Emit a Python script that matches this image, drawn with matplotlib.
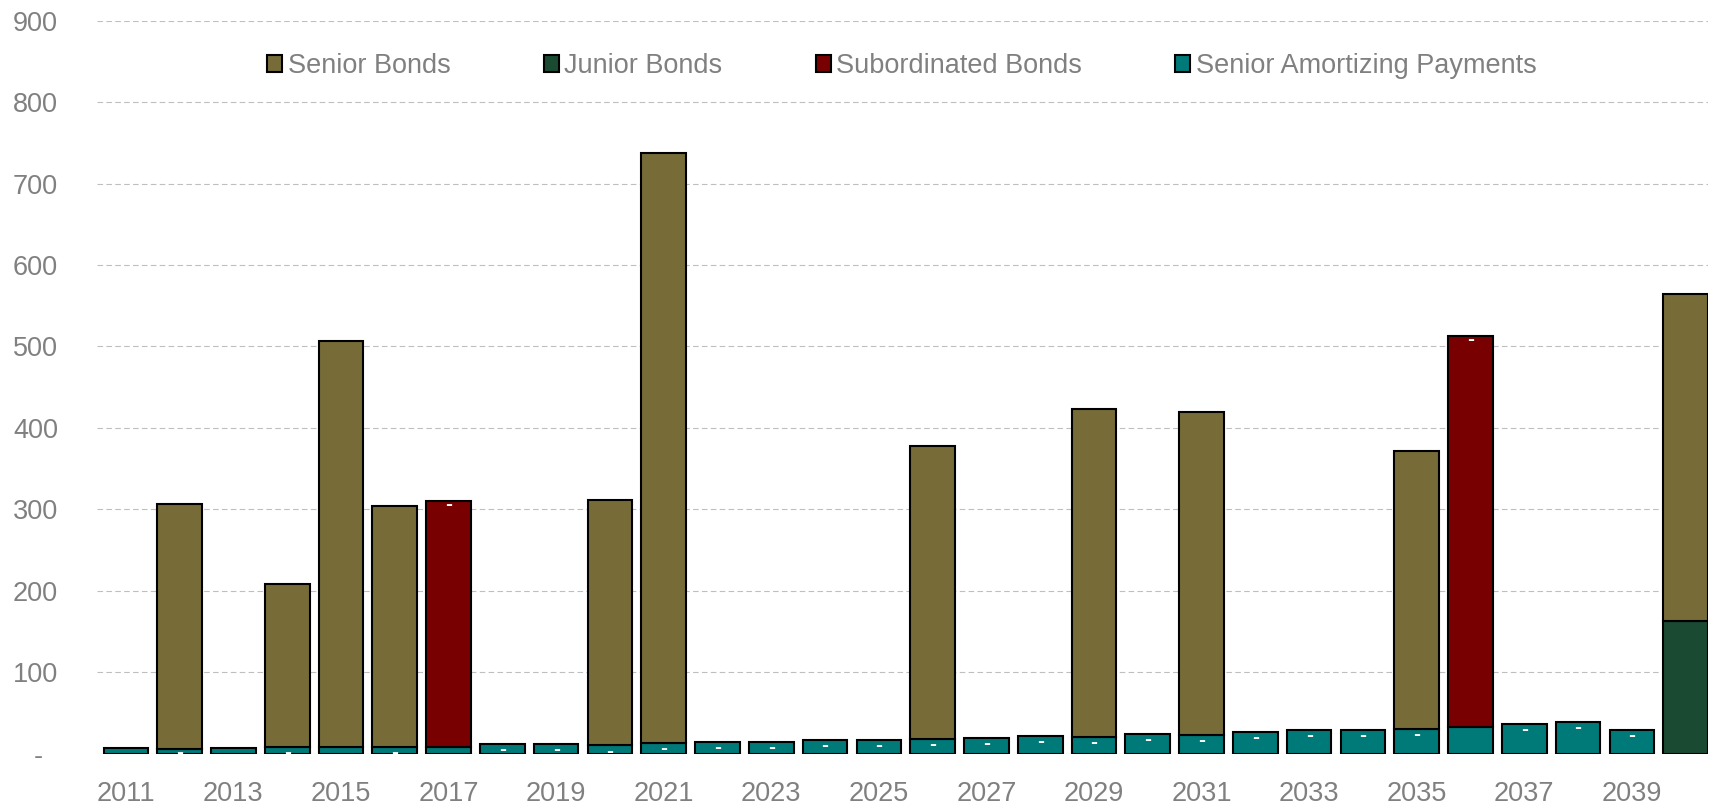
import matplotlib.pyplot as plt
import numpy as np
from matplotlib.patches import Patch

plt.rcParams["font.family"] = ["Liberation Sans", "DejaVu Sans"]

# Data (millions)
years = list(range(2011, 2041))
amortizing = [7, 5, 7, 8, 8, 8, 8, 12, 12, 10, 13, 14, 14, 17, 17,
              18, 19, 22, 20, 24, 23, 27, 29, 29, 30, 33, 36, 39, 29, 0]
junior = [0] * 29 + [163]
subordinated = [0] * 30
subordinated[2017 - 2011] = 302
subordinated[2036 - 2011] = 480
senior = [0, 302, 0, 200, 499, 296, 0, 0, 0, 301, 725, 0, 0, 0, 0,
          360, 0, 0, 403, 0, 397, 0, 0, 0, 342, 0, 0, 0, 0, 401]
# bars showing a small white "-" label
dash_years = [2012, 2014, 2016, 2017] + list(range(2018, 2040))

c_senior = "#776B38"
c_junior = "#1B4A32"
c_sub = "#780000"
c_amort = "#007A78"
grey = "#808080"

fig = plt.figure(figsize=(17.16, 8.11), dpi=100)
ax = fig.add_axes([0.0564, 0.0709, 0.9391, 0.9036])

x = np.arange(len(years))
w = 0.83
amort = np.array(amortizing)
jun = np.array(junior)
sub = np.array(subordinated)
sen = np.array(senior)

kw = dict(width=w, edgecolor="black", linewidth=1.5, zorder=3)
ax.bar(x, amort, color=c_amort, **kw)
ax.bar(x, jun, bottom=amort, color=c_junior, **kw)
ax.bar(x, sub, bottom=amort + jun, color=c_sub, **kw)
ax.bar(x, sen, bottom=amort + jun + sub, color=c_senior, **kw)

# hide empty segments' outlines
for cont in ax.containers:
    for p in cont.patches:
        if p.get_height() == 0:
            p.set_visible(False)

# little white dash labels
for yr in dash_years:
    i = yr - 2011
    if sub[i] > 0:
        yy = amort[i] + sub[i] - 4
    else:
        yy = amort[i] - 7
    ax.text(x[i], max(yy, 1.5), "-", color="white", fontsize=15, fontweight="bold",
            ha="center", va="center", zorder=4)

ax.set_xlim(-0.54, 29.42)
ax.set_ylim(0, 900)
ax.set_yticks(range(0, 901, 100))
ax.set_yticklabels(["-  "] + [str(v) for v in range(100, 901, 100)])
ax.set_xticks(x[::2])
ax.set_xticklabels([str(y) for y in years[::2]])
ax.tick_params(axis="both", length=0, labelsize=19.5, labelcolor=grey)
ax.tick_params(axis="x", pad=20)
ax.tick_params(axis="y", pad=28)

ax.grid(axis="y", color="#bfbfbf", linestyle=(0, (5, 3)), linewidth=0.8, zorder=0)
for s in ax.spines.values():
    s.set_visible(False)

names = ["Senior Bonds", "Junior Bonds", "Subordinated Bonds", "Senior Amortizing Payments"]
cols = [c_senior, c_junior, c_sub, c_amort]
handles = [Patch(facecolor=c, edgecolor="black", linewidth=1.5) for c in cols]
fig.legend(handles, names, loc="center", bbox_to_anchor=(902 / 1716, 1 - 66 / 811),
           ncol=4, frameon=False, fontsize=19.5, handlelength=0.55, handleheight=0.55,
           handletextpad=0.2, columnspacing=3.45, labelcolor=grey)

fig.savefig("out.png", dpi=100)
